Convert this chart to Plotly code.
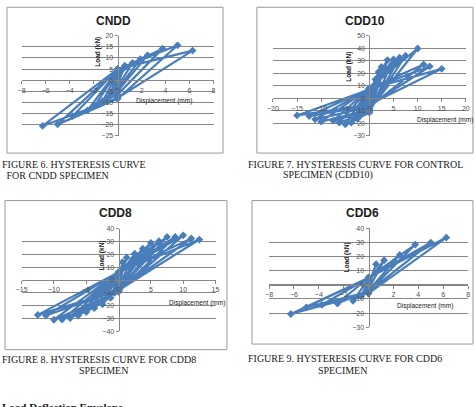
import plotly.graph_objects as go

W, H = 476, 407

# ---------------- data ----------------
# CNDD
cndd_amp = [0.6, 1.25, 1.9, 2.5, 3.75, 5.0, 6.25]
cndd_pos = [6.5, 7.8, 9.5, 11.2, 14.2, 15.7, 13.3]
cndd_neg = [-6.0, -9.5, -11.5, -13.6, -16.2, -19.9, -20.6]
cndd_res_pos = [-2.0, -3.0, -4.0, -5.0, -6.5, -8.4, -8.0]
cndd_res_neg = [2.0, 3.0, 4.0, 4.5, 5.0, 5.0, 5.0]

# CDD10
cdd10_amp = [0.6, 1.25, 1.9, 2.5, 3.75, 5.0, 6.25, 7.5, 10.0, 11.25, 12.5, 15.0]
cdd10_pos = [9.0, 15.0, 21.0, 25.0, 30.5, 31.0, 32.4, 34.0, 39.8, 27.0, 25.4, 23.5]
cdd10_neg = [-7.0, -11.0, -14.0, -16.5, -19.5, -20.9, -19.5, -18.0, -18.8, -16.9, -14.3, -13.8]
cdd10_res_pos = [-2.0, -4.0, -6.0, -8.0, -10.0, -11.5, -11.0, -10.0, -9.0, -7.0, -6.0, -5.0]
cdd10_res_neg = [2.0, 4.0, 5.0, 6.0, 7.0, 7.5, 8.0, 8.0, 8.0, 7.5, 7.5, 7.0]

# CDD8
cdd8_amp = [0.6, 1.25, 2.5, 3.75, 5.0, 6.25, 7.5, 8.75, 10.0, 11.25, 12.5]
cdd8_pos = [14.0, 17.5, 20.6, 24.5, 29.0, 30.3, 33.6, 33.6, 34.9, 32.4, 31.6]
cdd8_neg = [-10.0, -14.0, -19.0, -22.0, -25.0, -27.7, -29.8, -30.8, -31.0, -27.7, -27.2]
cdd8_res_pos = [-3.0, -4.0, -5.0, -6.0, -7.0, -8.0, -8.0, -9.0, -9.0, -8.0, -8.0]
cdd8_res_neg = [2.0, 3.0, 4.0, 4.5, 5.0, 5.0, 5.5, 5.5, 6.0, 6.0, 6.0]

# CDD6
cdd6_amp = [0.6, 1.25, 2.5, 3.75, 5.0, 6.25]
cdd6_pos = [14.5, 17.3, 21.0, 28.4, 29.8, 33.3]
cdd6_neg = [-8.0, -11.3, -13.2, -14.1, -15.9, -20.6]
cdd6_res_pos = [-2.0, -3.0, -4.0, -5.0, -5.0, -6.0]
cdd6_res_neg = [3.0, 4.0, 5.0, 5.0, 5.0, 5.0]

titles = ["CNDD", "CDD10", "CDD8", "CDD6"]
x_ranges = [(-8, 8), (-20, 20), (-15, 15), (-8, 8)]
x_dticks = [2, 5, 5, 2]
y_ranges = [(-25, 20), (-30, 50), (-40, 40), (-30, 40)]
y_dticks = [5, 10, 10, 10]
load_label_pos = [(-1.6, 13.0), (-4.3, 25.0), (-2.6, 19.0), (-1.76, 19.2)]
disp_label_pos = [(3.85, -9.2), (15.6, -17.4), (12.1, -17.8), (4.5, -15.2)]

captions = [
    ["FIGURE 6. HYSTERESIS CURVE", " FOR CNDD SPECIMEN"],
    ["FIGURE 7. HYSTERESIS CURVE FOR CONTROL", "SPECIMEN (CDD10)"],
    ["FIGURE 8. HYSTERESIS CURVE FOR CDD8", "SPECIMEN"],
    ["FIGURE 9. HYSTERESIS CURVE FOR CDD6", "SPECIMEN"],
]


def build(amp, pos, neg, rpos, rneg):
    xs, ys = [0.0], [0.0]
    for a, p, n, r1, r2 in zip(amp, pos, neg, rpos, rneg):
        xs += [a, 0.0, -a, 0.0]
        ys += [p, r1, n, r2]
    return xs, ys


series = [
    build(cndd_amp, cndd_pos, cndd_neg, cndd_res_pos, cndd_res_neg),
    build(cdd10_amp, cdd10_pos, cdd10_neg, cdd10_res_pos, cdd10_res_neg),
    build(cdd8_amp, cdd8_pos, cdd8_neg, cdd8_res_pos, cdd8_res_neg),
    build(cdd6_amp, cdd6_pos, cdd6_neg, cdd6_res_pos, cdd6_res_neg),
]

# ---------------- layout geometry (pixels) ----------------
plot_px = [(16, 212, 32.3, 134), (272.7, 469.7, 32.3, 134),
           (16, 214, 228.7, 333), (268.7, 472, 228, 329)]
boxes_px = [(1, 221.7, 3.3, 151.7), (256.3, 477, 3.3, 151.7),
            (-1, 225.7, 200, 351.7), (251.3, 477, 200, 346)]
title_px = [(110, 17), (367, 17), (112, 213), (364, 213)]
CAP_DX = -6
caption_px = [
    [(0, 163.3), (2, 174.5)],
    [(250.7, 163.3), (287.3, 174.5)],
    [(0, 361.5), (79, 373.3)],
    [(251.3, 361), (323, 373.3)],
]


def fx(px):
    return px / W


def fy(py):
    return 1 - py / H


BLUE = "#4A7EBB"
GRID = "#868686"

fig = go.Figure()
layout = dict(width=W, height=H, margin=dict(l=0, r=0, t=0, b=0),
              paper_bgcolor="white", plot_bgcolor="rgba(0,0,0,0)",
              showlegend=False, shapes=[], annotations=[])

for i in range(4):
    n = "" if i == 0 else str(i + 1)
    xs, ys = series[i]
    fig.add_trace(go.Scatter(
        x=xs, y=ys, mode="lines+markers", xaxis="x" + n, yaxis="y" + n,
        line=dict(color=BLUE, width=2.2),
        marker=dict(symbol="diamond", size=6, color=BLUE),
        hoverinfo="skip"))

    xl, xr, yt, yb = plot_px[i]
    xd = [fx(xl), fx(xr)]
    yd = [fy(yb), fy(yt)]
    xmin, xmax = x_ranges[i]
    ymin, ymax = y_ranges[i]
    x_axis_pos = yd[0] + (0 - ymin) / (ymax - ymin) * (yd[1] - yd[0])
    y_axis_pos = xd[0] + (0 - xmin) / (xmax - xmin) * (xd[1] - xd[0])
    tickfont = dict(family="Liberation Sans", size=7, color="#505050")
    layout["xaxis" + n] = dict(
        domain=xd, range=[xmin, xmax], anchor="free", position=x_axis_pos,
        dtick=x_dticks[i], tick0=0, showgrid=False, zeroline=False,
        showline=True, linecolor=GRID, linewidth=1,
        ticks="outside", ticklen=3, tickcolor=GRID, tickfont=tickfont,
        fixedrange=True)
    layout["yaxis" + n] = dict(
        domain=yd, range=[ymin, ymax], anchor="free", position=y_axis_pos,
        dtick=y_dticks[i], tick0=0, showgrid=True, gridcolor=GRID,
        gridwidth=1, zeroline=False, showline=True, linecolor=GRID,
        linewidth=1, ticks="outside", ticklen=3, tickcolor=GRID,
        tickfont=tickfont, fixedrange=True)

    bx0, bx1, by0, by1 = boxes_px[i]
    layout["shapes"].append(dict(
        type="rect", xref="paper", yref="paper",
        x0=fx(bx0), x1=fx(bx1), y0=fy(by1), y1=fy(by0),
        line=dict(color="#9A9A9A", width=1), fillcolor="rgba(0,0,0,0)",
        layer="below"))

    tx, ty = title_px[i]
    layout["annotations"].append(dict(
        text="<b>" + titles[i] + "</b>", xref="paper", yref="paper",
        x=fx(tx), y=fy(ty), xanchor="center", yanchor="middle",
        showarrow=False,
        font=dict(family="Liberation Sans", size=12, color="#202020")))

    lx, ly = load_label_pos[i]
    layout["annotations"].append(dict(
        text="<b>Load (kN)</b>", xref="x" + n, yref="y" + n, x=lx, y=ly,
        textangle=-90, showarrow=False, xanchor="center", yanchor="middle",
        font=dict(family="Liberation Sans", size=6.5, color="#202020")))
    dx, dy = disp_label_pos[i]
    layout["annotations"].append(dict(
        text="Displacement (mm)", xref="x" + n, yref="y" + n, x=dx, y=dy,
        showarrow=False, xanchor="center", yanchor="middle",
        font=dict(family="Liberation Sans", size=6.5, color="#202020")))

    for (cx, cy), txt in zip(caption_px[i], captions[i]):
        layout["annotations"].append(dict(
            text=txt, xref="paper", yref="paper", x=fx(cx + CAP_DX), y=fy(cy),
            xanchor="left", yanchor="middle", showarrow=False,
            font=dict(family="Liberation Serif", size=10, color="#1a1a1a")))

# partially visible heading at the bottom edge
layout["annotations"].append(dict(
    text="<b>Load Deflection Envelope</b>", xref="paper", yref="paper",
    x=fx(-6), y=fy(401.5), xanchor="left", yanchor="top", showarrow=False,
    font=dict(family="Liberation Serif", size=11, color="#1a1a1a")))

fig.update_layout(**layout)
fig.write_html("out.html")
